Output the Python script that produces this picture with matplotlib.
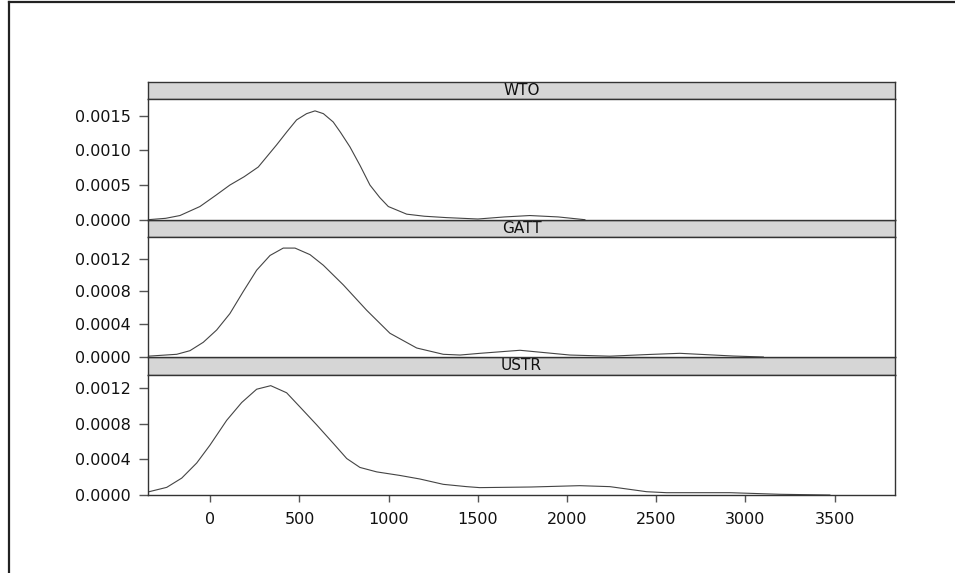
import matplotlib
matplotlib.use("Agg")
import matplotlib.pyplot as plt
from matplotlib.lines import Line2D

# density curves (x = value, y = density)
wto_x = [-349, -250, -170, -58, 30, 110, 190, 269, 372, 430, 484, 540, 587,
         634, 689, 730, 783, 840, 895, 950, 998, 1101, 1200, 1325, 1500, 1650,
         1791, 1950, 2100]
wto_y = [0.0, 0.00002, 0.00006, 0.00019, 0.00035, 0.0005, 0.00062, 0.00076,
         0.00108, 0.00127, 0.00144, 0.00153, 0.00157, 0.00153, 0.00141,
         0.00126, 0.00105, 0.00078, 0.0005, 0.00032, 0.00019, 0.00008, 0.00005,
         0.00003, 0.00001, 0.00004, 0.00006, 0.00004, 0.0]

gatt_x = [-349, -188, -114, -39, 36, 110, 185, 260, 335, 409, 475, 559, 634,
          746, 877, 1007, 1157, 1306, 1400, 1512, 1736, 2016, 2240, 2450, 2632,
          2931, 3100]
gatt_y = [0.00001, 0.000033, 0.000077, 0.00018, 0.00033, 0.00053, 0.0008,
          0.00106, 0.00124, 0.00133, 0.00133, 0.00125, 0.00112, 0.00088,
          0.00057, 0.00029, 0.00011, 0.000033, 0.000024, 0.000045, 0.000082,
          0.000024, 0.00001, 0.00003, 0.000045, 0.000012, 0.0]

ustr_x = [-349, -244, -160, -76, -2, 92, 176, 260, 339, 428, 503, 596, 690,
          765, 839, 933, 1063, 1175, 1306, 1437, 1510, 1800, 2071, 2240, 2446,
          2558, 2913, 3193, 3473]
ustr_y = [0.000034, 0.000086, 0.00019, 0.00036, 0.00056, 0.00084, 0.00104,
          0.00119, 0.00123, 0.00115, 0.00099, 0.00079, 0.00058, 0.00041,
          0.00031, 0.00026, 0.00022, 0.00018, 0.00012, 0.000094, 0.000083,
          0.00009, 0.000105, 0.000094, 0.000037, 0.000026, 0.000026, 0.000008,
          0.0]

panels = ["WTO", "GATT", "USTR"]
yticks = [[0, 0.0005, 0.0010, 0.0015],
          [0, 0.0004, 0.0008, 0.0012],
          [0, 0.0004, 0.0008, 0.0012]]
ytops = [0.001737, 0.001469, 0.00135]
xticks = [0, 500, 1000, 1500, 2000, 2500, 3000, 3500]

W, H = 955, 573
plt.rcParams["font.family"] = "DejaVu Sans"
fig = plt.figure(figsize=(W / 100, H / 100), dpi=100)
fig.patch.set_facecolor("white")

# outer frame: only top and left lines
fig.add_artist(Line2D([9 / W, 1], [1 - 2 / H, 1 - 2 / H], color="#222222", lw=1.6))
fig.add_artist(Line2D([9 / W, 9 / W], [0, 1 - 2 / H], color="#222222", lw=1.6))

left, right = 148, 895
# (strip top, strip bottom/panel top, panel bottom) in pixels
rows = [(82, 99.3, 219.7), (219.7, 236.7, 357), (357, 375, 495)]
series = [(wto_x, wto_y), (gatt_x, gatt_y), (ustr_x, ustr_y)]
edge = "#333333"

for i, (name, (st, pt, pb)) in enumerate(zip(panels, rows)):
    # strip
    sax = fig.add_axes([left / W, 1 - pt / H, (right - left) / W, (pt - st) / H])
    sax.set_facecolor("#d6d6d6")
    sax.set_xticks([])
    sax.set_yticks([])
    for s in sax.spines.values():
        s.set_color(edge)
        s.set_linewidth(1)
    sax.text(0.5, 0.5, name, transform=sax.transAxes, ha="center", va="center",
             fontsize=11, color="#111111")

    ax = fig.add_axes([left / W, 1 - pb / H, (right - left) / W, (pb - pt) / H])
    xs, ys = series[i]
    ax.plot(xs, ys, color="#444444", lw=0.8)
    ax.set_xlim(-349, 3838)
    ax.set_ylim(0, ytops[i])
    ax.set_yticks(yticks[i])
    ax.set_yticklabels([f"{v:.4f}" for v in yticks[i]])
    for s in ax.spines.values():
        s.set_color(edge)
        s.set_linewidth(1)
    ax.tick_params(axis="y", length=6.5, width=1, color="#555555", pad=6,
                   labelsize=11.5, labelcolor="#111111")
    if i == 2:
        ax.set_xticks(xticks)
        ax.set_xticklabels([str(v) for v in xticks])
        ax.tick_params(axis="x", length=5, width=1, color="#555555", pad=7,
                       labelsize=11.5, labelcolor="#111111")
    else:
        ax.set_xticks([])
    ax.set_zorder(1)

fig.savefig("out.png", dpi=100, facecolor="white")
